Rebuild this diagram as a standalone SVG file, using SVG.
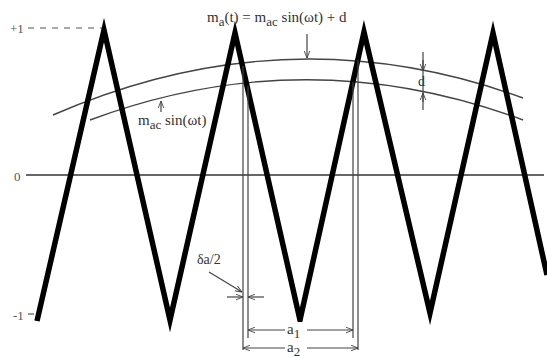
<svg xmlns="http://www.w3.org/2000/svg" width="547" height="358" viewBox="0 0 547 358">
<style>
.lbl{font-family:"Liberation Serif","Times New Roman",serif;fill:#333;}
.ax{font-family:"Liberation Serif","Times New Roman",serif;fill:#555;font-size:13px;}
.thin{stroke:#444;stroke-width:1.2;fill:none;}
.curve{stroke:#444;stroke-width:1.4;fill:none;}
</style>
<defs>
<marker id="ah" viewBox="0 0 10 10" refX="10" refY="5" markerWidth="7" markerHeight="7" orient="auto-start-reverse" markerUnits="userSpaceOnUse">
<path d="M0,1 L10,5 L0,9" fill="none" stroke="#444" stroke-width="1.3"/>
</marker>
</defs>
<rect width="547" height="358" fill="#fff"/>
<g id="axes">
<line x1="26" y1="175" x2="544" y2="175" stroke="#666" stroke-width="2"/>
<line x1="28" y1="28" x2="104" y2="28" stroke="#555" stroke-width="1.2" stroke-dasharray="6,6"/>
<line x1="28" y1="314" x2="34" y2="314" stroke="#555" stroke-width="1.2"/>
<text class="ax" x="10" y="33">+1</text>
<text class="ax" x="14" y="181">0</text>
<text class="ax" x="13" y="320">-1</text>
</g>
<g id="curves">
<path class="curve" d="M53,115 Q288,12.4 523,98"/>
<path class="curve" d="M90,120 Q306.5,39.4 523,120"/>
</g>
<g id="wave">
<polyline points="37,321 104,30 170,320 235,33 300,320 364,32 430,313 493,33 547,275" fill="none" stroke="#000" stroke-width="5.5" stroke-linejoin="miter" stroke-miterlimit="20"/>
</g>
<g id="connectors">
<line class="thin" x1="243" y1="66" x2="243" y2="350"/>
<line class="thin" x1="248" y1="86" x2="248" y2="338"/>
<line class="thin" x1="353" y1="82" x2="353" y2="338"/>
<line class="thin" x1="358" y1="60" x2="358" y2="350"/>
<line class="thin" x1="248" y1="330" x2="353" y2="330" marker-start="url(#ah)" marker-end="url(#ah)"/>
<line class="thin" x1="243" y1="348" x2="358" y2="348" marker-start="url(#ah)" marker-end="url(#ah)"/>
<line class="thin" x1="227" y1="297" x2="243" y2="297" marker-end="url(#ah)"/>
<line class="thin" x1="264" y1="297" x2="248" y2="297" marker-end="url(#ah)"/>
<line class="thin" x1="209" y1="272" x2="242" y2="292" marker-end="url(#ah)"/>
<line class="thin" x1="307" y1="34" x2="307" y2="58" marker-end="url(#ah)"/>
<line class="thin" x1="161" y1="112" x2="161" y2="101" marker-end="url(#ah)"/>
<line class="thin" x1="423" y1="52" x2="423" y2="110"/>
<line class="thin" x1="423" y1="60" x2="423" y2="71" marker-end="url(#ah)"/>
<line class="thin" x1="423" y1="102" x2="423" y2="93" marker-end="url(#ah)"/>
</g>
<g id="labels">
<text class="lbl" x="207" y="22" font-size="15">m<tspan font-size="13" dy="4">a</tspan><tspan dy="-4">(t) = m</tspan><tspan font-size="13" dy="4">ac</tspan><tspan dy="-4"> sin(ωt) + d</tspan></text>
<text class="lbl" x="138" y="125" font-size="15">m<tspan font-size="13" dy="4">ac</tspan><tspan dy="-4"> sin(ωt)</tspan></text>
<text class="lbl" x="418" y="86" font-size="14">d</text>
<text class="lbl" x="197" y="264" font-size="14">δa/2</text>
<rect x="285" y="322" width="22" height="14" fill="#fff"/>
<text class="lbl" x="287" y="334" font-size="15">a<tspan font-size="13" dy="4">1</tspan></text>
<rect x="285" y="341" width="22" height="17" fill="#fff"/>
<text class="lbl" x="287" y="352" font-size="15">a<tspan font-size="13" dy="4">2</tspan></text>
</g>
</svg>
